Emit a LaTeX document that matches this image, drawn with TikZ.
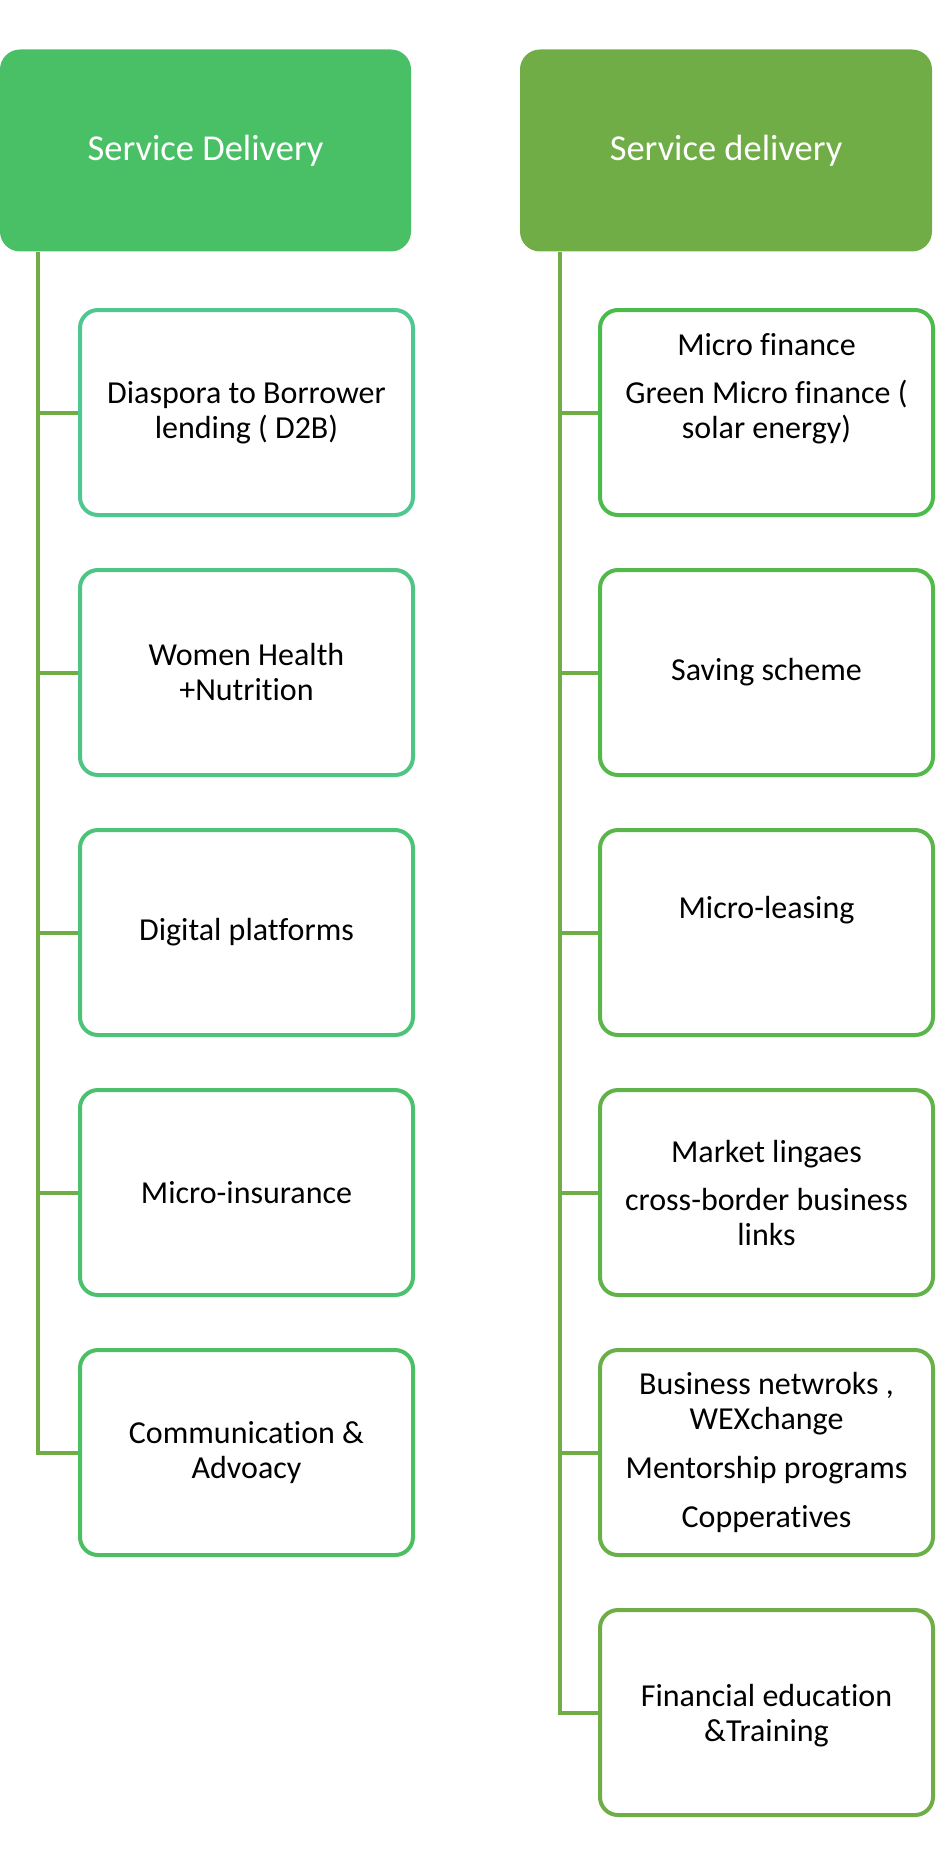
\documentclass[tikz,border=0pt]{standalone}
\usepackage{fontspec}
\setmainfont{Carlito}[Ligatures={NoCommon}]
\definecolor{hL}{RGB}{74,192,102}
\definecolor{hR}{RGB}{112,173,71}
\definecolor{lineg}{RGB}{112,173,71}
\definecolor{Lc1}{RGB}{78,199,144}
\definecolor{Lc2}{RGB}{78,197,131}
\definecolor{Lc3}{RGB}{77,195,120}
\definecolor{Lc4}{RGB}{76,193,109}
\definecolor{Lc5}{RGB}{75,191,98}
\definecolor{Rc1}{RGB}{75,188,75}
\definecolor{Rc2}{RGB}{82,185,74}
\definecolor{Rc3}{RGB}{90,182,74}
\definecolor{Rc4}{RGB}{97,179,73}
\definecolor{Rc5}{RGB}{105,176,72}
\definecolor{Rc6}{RGB}{112,173,71}
\begin{document}
\begin{tikzpicture}[x=1pt,y=-1pt,
  hdr/.style={fill=#1, rounded corners=20pt, minimum width=411pt, minimum height=202pt,
    inner sep=0pt, text=white, font=\fontsize{36.5}{44}\selectfont},
  item/.style={draw=#1, line width=4pt, rounded corners=18pt, fill=white,
    minimum width=333pt, minimum height=205pt, inner sep=0pt, align=center,
    font=\fontsize{32}{35}\selectfont},
  conn/.style={draw=lineg, line width=4pt}]
\useasboundingbox (0,0) rectangle (937,1862);

% headers
\node[hdr=hL] (hl) at (205.5,150.5) {Service Delivery};
\node[hdr=hR, minimum width=412pt] (hr) at (726,150.5) {Service delivery};

% left column
\node[item=Lc1] (l1) at (246.5,412.5) {Diaspora to Borrower\\lending ( D2B)};
\node[item=Lc2] (l2) at (246.5,672.5) {Women Health\\+Nutrition};
\node[item=Lc3] (l3) at (246.5,932.5) {Digital platforms};
\node[item=Lc4] (l4) at (246.5,1192.5) {Micro-insurance};
\node[item=Lc5] (l5) at (246.5,1452.5) {Communication \&\\Advoacy};

% right column
\node[item=Rc1] (r1) at (766.5,412.5) {Micro finance\\[13pt]Green Micro finance (\\solar energy)\\[19pt]\mbox{}};
\node[item=Rc2] (r2) at (766.5,672.5) {Saving scheme};
\node[item=Rc3] (r3) at (766.5,932.5) {Micro-leasing\\[15pt]\mbox{}};
\node[item=Rc4] (r4) at (766.5,1192.5) {Market lingaes\\[13pt]cross-border business\\links};
\node[item=Rc5] (r5) at (766.5,1452.5) {Business netwroks ,\\WEXchange\\[14pt]Mentorship programs\\[14pt]Copperatives};
\node[item=Rc6] (r6) at (766.5,1712.5) {\mbox{}\\[-6pt]Financial education\\\&Training};

% connectors left
\coordinate (lt) at (hl.south -| 38,0);
\draw[conn] (lt) |- (l5.west);
\foreach \n in {l1,l2,l3,l4}{\draw[conn] (lt |- \n.west) -- (\n.west);}

% connectors right
\coordinate (rt) at (hr.south -| 560,0);
\draw[conn] (rt) |- (r6.west);
\foreach \n in {r1,r2,r3,r4,r5}{\draw[conn] (rt |- \n.west) -- (\n.west);}
\end{tikzpicture}
\end{document}
